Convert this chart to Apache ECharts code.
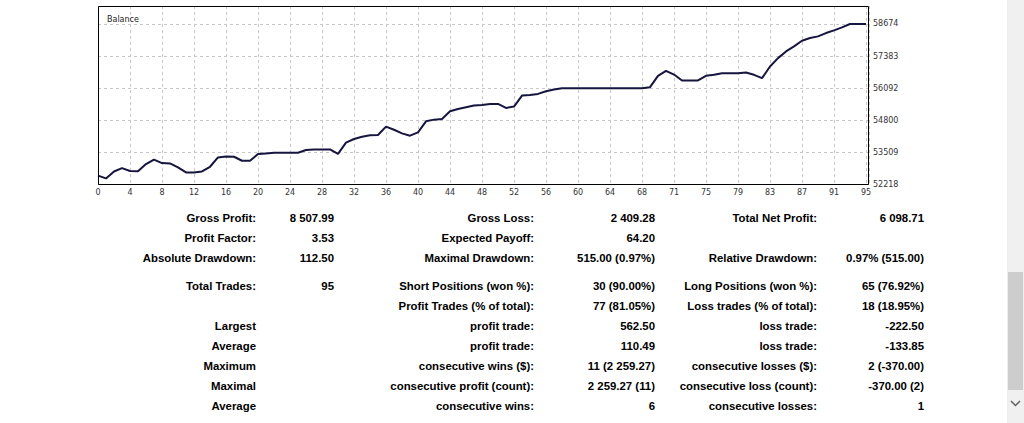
<!DOCTYPE html>
<html>
<head>
<meta charset="utf-8">
<script src="https://cdn.jsdelivr.net/npm/echarts@6/dist/echarts.min.js"></script>
<style>
html,body{margin:0;padding:0;background:#ffffff;}
#c{width:1024px;height:423px;}
</style>
</head>
<body>
<div id="c"></div>
<script>
// ---- data ----
const balance = [
  52575, 52462.5, 52742, 52877, 52760, 52750, 53038, 53217, 53080, 53065,
  52904, 52702, 52702, 52742, 52931, 53307, 53348, 53334, 53173, 53173,
  53442, 53469, 53496, 53496, 53496, 53496, 53603, 53630, 53630, 53630,
  53450, 53900, 54047, 54141, 54195, 54208, 54545, 54420, 54276, 54182,
  54316, 54760, 54827, 54854, 55163, 55257, 55325, 55392, 55419, 55459,
  55459, 55298, 55351, 55795, 55822, 55862, 55970, 56038, 56092, 56092,
  56092, 56092, 56092, 56092, 56092, 56092, 56092, 56092, 56092, 56132,
  56590, 56792, 56640, 56402, 56402, 56402, 56590, 56630, 56697, 56697,
  56697, 56724, 56630, 56496, 56966, 57302, 57571, 57772, 58001, 58109,
  58176, 58310, 58418, 58539, 58674, 58674, 58674
];
const xTickLabels = ['0','4','8','12','16','20','24','28','32','36','40','44','48','52','56','60','64','68','71','75','79','83','87','91','95'];
const yTickValues = [52218, 53509, 54800, 56092, 57383, 58674];

const col1Labels = ['Gross Profit:','Profit Factor:','Absolute Drawdown:','Total Trades:','','Largest','Average','Maximum','Maximal','Average'];
const col1Values = ['8 507.99','3.53','112.50','95','','','','','',''];
const col2Labels = ['Gross Loss:','Expected Payoff:','Maximal Drawdown:','Short Positions (won %):','Profit Trades (% of total):','profit trade:','profit trade:','consecutive wins ($):','consecutive profit (count):','consecutive wins:'];
const col2Values = ['2 409.28','64.20','515.00 (0.97%)','30 (90.00%)','77 (81.05%)','562.50','110.49','11 (2 259.27)','2 259.27 (11)','6'];
const col3Labels = ['Total Net Profit:','','Relative Drawdown:','Long Positions (won %):','Loss trades (% of total):','loss trade:','loss trade:','consecutive losses ($):','consecutive loss (count):','consecutive losses:'];
const col3Values = ['6 098.71','','0.97% (515.00)','65 (76.92%)','18 (18.95%)','-222.50','-133.85','2 (-370.00)','-370.00 (2)','1'];

// ---- layout ----
const rowY = [218, 238, 258, 286, 306, 326, 346, 366, 386, 406];
const colRight = [256, 334, 534, 655, 817, 924];
const tableFont = 'bold 11.4px "Liberation Sans", Arial, sans-serif';

const chart = echarts.init(document.getElementById('c'), null, {renderer: 'svg'});

const graphics = [];
const cols = [[col1Labels, col1Values], [col2Labels, col2Values], [col3Labels, col3Values]];
cols.forEach((pair, ci) => {
  pair.forEach((arr, k) => {
    arr.forEach((t, r) => {
      if (!t) return;
      graphics.push({
        type: 'text', x: colRight[ci * 2 + k], y: rowY[r], silent: true,
        style: {text: t, align: 'right', verticalAlign: 'middle', font: tableFont, fill: '#000'}
      });
    });
  });
});
// plot frame (drawn on top of the dashed grid lines)
graphics.push({type: 'rect', z: 100, silent: true, shape: {x: 98.5, y: 6.5, width: 770, height: 178}, style: {fill: null, stroke: '#000', lineWidth: 1}});
// scrollbar
graphics.push({type: 'rect', shape: {x: 1007, y: 0, width: 17, height: 423}, style: {fill: '#f0f0f0'}, silent: true});
graphics.push({type: 'rect', shape: {x: 1008, y: 272, width: 15, height: 118}, style: {fill: '#cdcdcd'}, silent: true});
graphics.push({type: 'polyline', shape: {points: [[1011, 401], [1015.5, 405.5], [1020, 401]]}, style: {stroke: '#606060', lineWidth: 1.5, fill: null}, silent: true});

const axisFont = {fontFamily: 'DejaVu Sans', fontSize: 8, color: '#333'};
const gridLine = {color: '#c8c8c8', type: [3, 3], width: 1};

chart.setOption({
  animation: false,
  backgroundColor: '#ffffff',
  title: {text: 'Balance', left: 102, top: 10, textStyle: {fontFamily: 'DejaVu Sans', fontSize: 8, fontWeight: 'normal', color: '#222'}},
  grid: {left: 98, top: 6, width: 771, height: 178.5, show: false},
  xAxis: {
    type: 'value', min: 0, max: 96.375, interval: 4,
    axisLine: {show: false}, axisTick: {show: false},
    splitLine: {show: true, lineStyle: gridLine},
    axisLabel: Object.assign({margin: 4, showMaxLabel: false, formatter: v => {const k = v / 4; return Number.isInteger(k) && xTickLabels[k] !== undefined ? xTickLabels[k] : '';}}, axisFont)
  },
  yAxis: {
    type: 'value', min: 52218, max: 59398,
    axisLine: {show: false}, axisTick: {show: false}, axisLabel: {show: false}, splitLine: {show: false}
  },
  series: [
    {
      type: 'line', z: 1, silent: true, showSymbol: false,
      data: balance.map((v, i) => [i, v]),
      lineStyle: {opacity: 0},
      markLine: {
        z: 1, silent: true, symbol: 'none', animation: false,
        lineStyle: gridLine,
        label: Object.assign({show: true, position: 'end', distance: 4, formatter: p => String(p.value)}, axisFont),
        emphasis: {disabled: true},
        data: yTickValues.map(v => ({yAxis: v}))
      }
    },
    {
      type: 'line', z: 10, silent: true, showSymbol: false,
      data: balance.map((v, i) => [i, v]),
      lineStyle: {color: '#15153f', width: 2}
    }
  ],
  graphic: graphics
});
</script>
</body>
</html>
